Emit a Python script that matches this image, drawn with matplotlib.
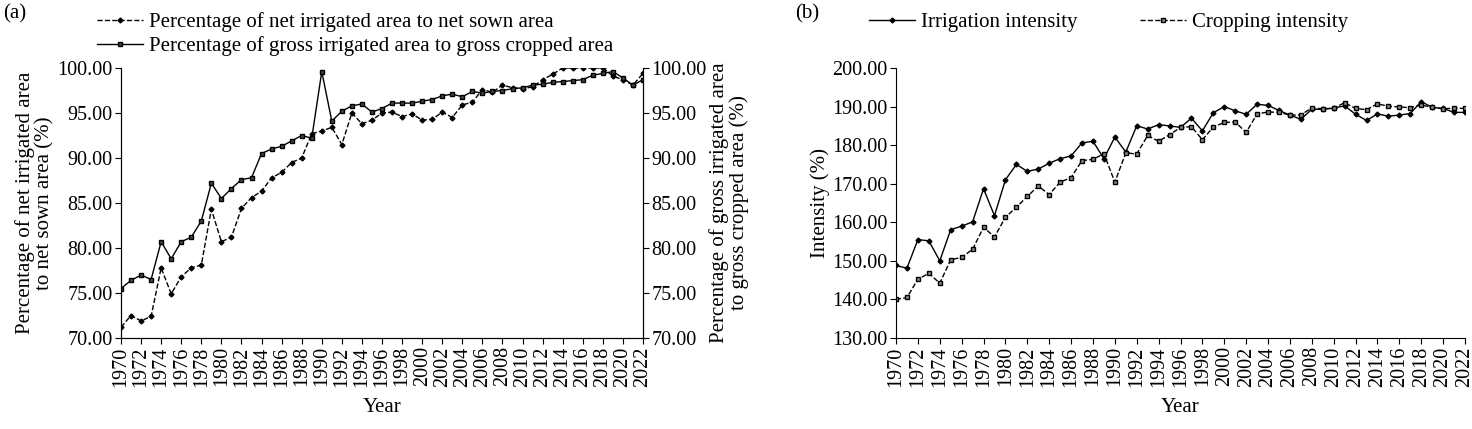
import numpy as np
import matplotlib.pyplot as plt

plt.rcParams['font.family'] = ['Liberation Serif', 'DejaVu Serif']

years = np.arange(1970, 2023)
net_pct = [71.2, 72.5, 71.9, 72.4, 77.8, 74.9, 76.8, 77.8, 78.1, 84.3,
           80.7, 81.2, 84.4, 85.6, 86.3, 87.8, 88.4, 89.5, 90.0, 92.7,
           93.0, 93.4, 91.5, 95.0, 93.8, 94.2, 95.0, 95.1, 94.6, 94.9,
           94.2, 94.3, 95.1, 94.5, 95.9, 96.2, 97.6, 97.3, 98.1, 97.8,
           97.7, 97.9, 98.7, 99.3, 100.0, 100.0, 100.0, 100.0, 100.0, 99.1,
           98.7, 98.1, 99.4]
gross_pct = [75.5, 76.4, 77.0, 76.5, 80.7, 78.8, 80.7, 81.2, 83.0, 87.2,
             85.5, 86.6, 87.6, 87.8, 90.5, 91.0, 91.3, 91.9, 92.5, 92.2,
             99.6, 94.1, 95.2, 95.8, 96.0, 95.1, 95.5, 96.1, 96.1, 96.1,
             96.3, 96.5, 96.9, 97.1, 96.8, 97.4, 97.2, 97.4, 97.5, 97.7,
             97.8, 98.1, 98.2, 98.4, 98.5, 98.6, 98.7, 99.2, 99.4, 99.6,
             98.9, 98.1, 98.7]
irr_int = [148.8, 148.1, 155.5, 155.2, 150.0, 158.1, 159.0, 160.1, 168.7, 161.7,
           171.0, 175.0, 173.2, 173.8, 175.3, 176.5, 177.2, 180.6, 181.0, 176.5,
           182.1, 178.2, 185.0, 184.2, 185.3, 185.0, 184.6, 187.0, 183.7, 188.4,
           190.0, 188.9, 188.0, 190.6, 190.3, 189.0, 187.8, 186.7, 189.3, 189.3,
           189.6, 190.2, 188.0, 186.4, 188.1, 187.5, 187.8, 188.2, 191.3, 189.8,
           189.5, 188.5, 188.5]
crop_int = [140.0, 140.5, 145.2, 146.8, 144.2, 150.3, 150.9, 153.0, 158.7, 156.2,
            161.3, 163.9, 166.7, 169.4, 167.2, 170.4, 171.6, 176.0, 176.3, 177.8,
            170.4, 178.0, 177.7, 182.5, 181.0, 182.7, 184.6, 184.8, 181.4, 184.7,
            185.9, 186.0, 183.3, 188.1, 188.6, 188.5, 187.8, 187.8, 189.7, 189.4,
            189.6, 191.0, 189.5, 189.2, 190.7, 190.1, 189.9, 189.7, 190.4, 189.8,
            189.4, 189.6, 189.5]
xticks = np.arange(1970, 2023, 2)

tick_fs = 14.5
label_fs = 15

fig = plt.figure(figsize=(14.72, 4.29), dpi=100)
ax1 = fig.add_axes([121/1472, 91/429, 522/1472, 270/429])
ax2 = ax1.twinx()
axb = fig.add_axes([896/1472, 91/429, 569/1472, 270/429])

l1, = ax1.plot(years, net_pct, '--', color='k', marker='D', ms=2.5, lw=1,
               label='Percentage of net irrigated area to net sown area')
l2, = ax2.plot(years, gross_pct, '-', color='k', marker='s', ms=3.5, mfc='#444444', lw=1,
               label='Percentage of gross irrigated area to gross cropped area')
for a in (ax1, ax2):
    a.set_ylim(70, 100)
    a.set_yticks(np.arange(70, 101, 5))
    a.set_yticklabels(['%.2f' % v for v in np.arange(70, 101, 5)], fontsize=tick_fs)
ax1.set_ylabel('Percentage of net irrigated area\nto net sown area (%)', fontsize=label_fs,
               labelpad=2, linespacing=1.0)
ax2.set_ylabel('Percentage of gross irrigated area\nto gross cropped area (%)', fontsize=label_fs,
               labelpad=2, linespacing=1.0)
fig.legend(handles=[l1, l2], loc='upper left', bbox_to_anchor=(78/1472, 1.015),
           frameon=False, fontsize=label_fs, handlelength=2.2, labelspacing=0.2,
           handletextpad=0.3)
fig.text(3/1472, 0.99, '(a)', fontsize=label_fs, va='top')

lb1, = axb.plot(years, irr_int, '-', color='k', marker='D', ms=2.5, lw=1, label='Irrigation intensity')
lb2, = axb.plot(years, crop_int, '--', color='k', marker='s', ms=3.5, mfc='#888888', lw=1,
                label='Cropping intensity')
axb.set_ylim(130, 200)
axb.set_yticks(np.arange(130, 201, 10))
axb.set_yticklabels(['%.2f' % v for v in np.arange(130, 201, 10)], fontsize=tick_fs)
axb.set_ylabel('Intensity (%)', fontsize=label_fs, labelpad=2)
fig.legend(handles=[lb1, lb2], loc='upper left', bbox_to_anchor=(850/1472, 1.015), ncol=2,
           frameon=False, fontsize=label_fs, handlelength=2.2, columnspacing=3.0,
           handletextpad=0.3)
fig.text(795/1472, 0.99, '(b)', fontsize=label_fs, va='top')

for a in (ax1, axb):
    a.set_xlim(1970, 2022)
    a.set_xticks(xticks)
    a.set_xticklabels([str(y) for y in xticks], rotation=90, fontsize=tick_fs)
    a.set_xlabel('Year', fontsize=label_fs, labelpad=8)
for a in (ax1, ax2, axb):
    a.tick_params(direction='out', length=4, pad=2)
axb.spines['top'].set_visible(False)
axb.spines['right'].set_visible(False)
ax1.spines['top'].set_visible(False)
ax2.spines['top'].set_visible(False)

fig.savefig('out.png', dpi=100)
